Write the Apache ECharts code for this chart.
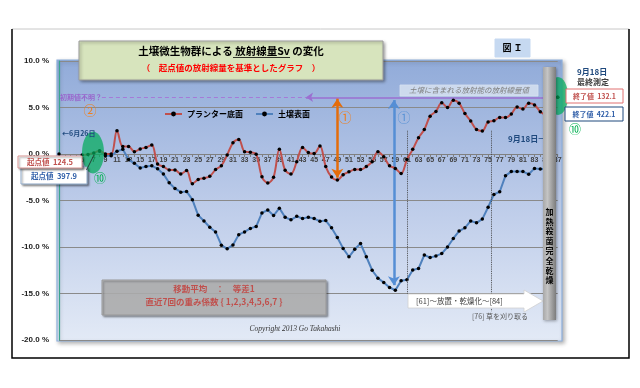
<!DOCTYPE html>
<html><head><meta charset="utf-8">
<script src="https://cdn.jsdelivr.net/npm/echarts@6/dist/echarts.min.js"></script>
<style>html,body{margin:0;padding:0;background:#fff}#c{width:640px;height:388px}</style>
</head><body><div id="c"></div>
<script>
const days = [1,2,3,4,5,6,7,8,9,10,11,12,13,14,15,16,17,18,19,20,21,22,23,24,25,26,27,28,29,30,
31,32,33,34,35,36,37,38,39,40,41,42,43,44,45,46,47,48,49,50,51,52,53,54,55,56,57,58,59,60,
61,62,63,64,65,66,67,68,69,70,71,72,73,74,75,76,77,78,79,80,81,82,83,84,85,86,87];
const planterBottom = [null,null,null,null,-0.1,-0.05,0.1,0.35,
0.0,0.0,2.5,0.8,0.8,0.25,0.55,0.7,0.96,-1.07,-1.35,-1.71,
-1.71,-2.14,-1.78,-3.2,-2.74,-2.6,-2.4,-1.68,-1.25,-0.1,
1.2,1.55,0.25,0.18,-0.04,-2.45,-3.13,-2.5,0.5,-1.75,
-2.14,-0.82,0.71,0.16,0.05,0.87,-1.35,-2.48,-2.8,-2.22,
-1.92,-1.68,-1.68,-1.35,-0.82,0.25,-0.3,-1.27,-1.55,-2.1,
-0.6,0.5,1.76,2.63,4.07,4.58,5.5,4.99,5.77,5.46,
4.35,3.54,2.63,2.48,3.45,3.57,3.92,3.92,4.3,5.05,
4.83,5.45,5.28,4.55,4.2,null,6.1];
const soilSurface = [0,null,null,null,null,null,null,0.3,
-0.2,-0.2,0.3,0.5,-0.6,-1.0,-1.5,-1.35,-1.27,-1.58,-2.14,-3.1,
-3.7,-4.1,-4.02,-4.91,-6.59,-7.2,-7.88,-8.38,-9.8,-10.2,
-9.78,-8.67,-8.38,-8.0,-7.8,-6.34,-6.02,-6.62,-5.82,-6.8,
-7.08,-6.7,-6.94,-6.8,-6.94,-7.23,-7.16,-7.94,-8.97,-10.15,
-11.05,-10.25,-9.63,-11.05,-12.5,-13.35,-13.81,-14.35,-14.65,-13.63,
-13.52,-12.48,-12.32,-10.86,-11.14,-10.96,-10.71,-10.0,-9.08,-8.29,
-7.94,-7.2,-7.4,-7.0,-5.72,-4.35,-4.06,-2.33,-1.89,-1.89,
-1.89,-2.17,-1.55,-1.6,-1.6,null,6.1];
const seriesNames = ['プランター底面','土壌表面'];
const yTicks = {min:-20, max:10, step:5};

const FF = "'Liberation Sans','Noto Sans CJK JP',sans-serif";
const JF = "'Noto Sans CJK JP','Liberation Sans',sans-serif";
const chart = echarts.init(document.getElementById('c'), null, {renderer:'canvas'});
const pair = arr => days.map((d,i)=>[d, arr[i]]);

const GRID = {left:59, right:82.3, top:61, bottom:48};
const gridH = 388 - GRID.top - GRID.bottom;
// place the category axis on the 0 % line
const zeroOffset = -gridH * (0 - yTicks.min) / (yTicks.max - yTicks.min);

function txt(x,y,text,o){
  o=o||{};
  return {type:'text', x:x, y:y, z:o.z||120, silent:true, style:{
    text:text, fill:o.color||'#000', fontSize:o.size||8, fontWeight:o.weight||'bold',
    fontStyle:o.italic?'italic':'normal', fontFamily:o.family||JF,
    align:o.align||'left', verticalAlign:'middle', textAlign:o.align||'left', textVerticalAlign:'middle',
    lineHeight:o.lh||undefined }};
}
function box(x,y,w,h,fill,stroke,o){
  o=o||{};
  return {type:'rect', z:o.z||110, silent:true, shape:{x:x,y:y,width:w,height:h},
    style:{fill:fill, stroke:stroke, lineWidth:o.lw||1, shadowBlur:o.sb||0, shadowColor:'rgba(0,0,0,0.35)', shadowOffsetX:o.sb?1.5:0, shadowOffsetY:o.sb?1.5:0}};
}

const graphics = [
  {type:'line', z:-20, silent:true, shape:{x1:12,y1:29,x2:629,y2:29}, style:{stroke:'#c8c8c8', lineWidth:1}},
  {type:'polyline', z:-20, silent:true, shape:{points:[[12,29],[12,358],[629,358],[629,29]]}, style:{stroke:'#000', lineWidth:1.5, fill:null}},
  {type:'rect', z:-10, silent:true, shape:{x:57,y:60,width:505,height:281},
    style:{fill:{type:'linear',x:0,y:0,x2:0,y2:1,colorStops:[{offset:0,color:'#91abd9'},{offset:0.5,color:'#bccbe9'},{offset:1,color:'#e3eaf6'}]},
      stroke:'#8eb0dc', lineWidth:1.2, shadowBlur:4, shadowColor:'rgba(0,0,0,0.3)', shadowOffsetX:2, shadowOffsetY:2}},
  box(79,41,304,39,'#d7e4bd','#9a9a9a',{sb:3}),
  txt(231,51,'土壌微生物群による 放射線量Sv の変化',{size:10.5,align:'center'}),
  {type:'line', z:121, silent:true, shape:{x1:233,y1:57.5,x2:290,y2:57.5}, style:{stroke:'#000', lineWidth:0.8}},
  txt(231,68,'（　起点値の放射線量を基準としたグラフ　）',{size:8.5,align:'center',color:'#ff0000'}),
  box(495,39,35,18,'#c6d9f1','#c6d9f1'),
  txt(512.5,48,'図 Ｉ',{size:9,align:'center'}),
  txt(60,97,'初期値不明？',{size:7,color:'#9966cc'}),
  box(400,85,138,11,'rgba(214,224,240,0.85)','rgba(214,224,240,0.85)',{z:105}),
  txt(469,90.5,'土壌に含まれる放射能の放射線量値',{size:7.5,color:'#7f7f7f',weight:'normal',italic:true,align:'center'}),
  txt(90,110,'②',{size:13,color:'#ee7f1e',weight:'normal',align:'center'}),
  txt(345,117,'①',{size:13,color:'#ee7f1e',weight:'normal',align:'center'}),
  txt(404,117,'①',{size:13,color:'#5b93d6',weight:'normal',align:'center'}),
  {type:'ellipse', z:90, silent:true, shape:{cx:93,cy:152.5,rx:11,ry:21}, style:{fill:'rgba(0,170,90,0.72)'}},
  {type:'line', z:115, silent:true, shape:{x1:86.5,y1:170,x2:94,y2:155}, style:{stroke:'#222', lineWidth:0.8}},
  txt(62,133,'←6月26日',{size:7,color:'#1f497d'}),
  box(21,167,66,17,'#fff','#8ea9c8',{sb:2}),
  txt(54,176,'起点値  397.9',{size:7.5,color:'#2f5ea8',align:'center'}),
  box(18,156,64,12,'#fff','#d99694',{sb:2}),
  txt(50,162,'起点値  124.5',{size:7.5,color:'#c0504d',align:'center'}),
  txt(100,178,'⑩',{size:12,color:'#00b050',weight:'normal',align:'center'}),
  {type:'ellipse', z:90, silent:true, shape:{cx:558,cy:96,rx:10,ry:19}, style:{fill:'rgba(0,170,90,0.72)'}},
  txt(577,72,'9月18日',{size:8,color:'#1f497d'}),
  txt(577,82,'最終測定',{size:8,color:'#404040'}),
  box(566,89,57,14,'#fff','#e07070'),
  txt(594.5,96,'終了値  132.1',{size:7,color:'#c0504d',align:'center'}),
  box(565,107,58,14,'#fff','#1f497d'),
  txt(594,114,'終了値  422.1',{size:7,color:'#2f5ea8',align:'center'}),
  txt(575,129,'⑩',{size:12,color:'#00b050',weight:'normal',align:'center'}),
  txt(508,139,'9月18日→',{size:8,color:'#1f497d'}),
  {type:'rect', z:130, silent:true, shape:{x:543,y:67,width:13,height:253},
    style:{fill:{type:'linear',x:0,y:0,x2:1,y2:0,colorStops:[{offset:0,color:'#a8a8a8'},{offset:0.35,color:'#c4c4c4'},{offset:1,color:'#7c7c7c'}]},
      shadowBlur:3, shadowColor:'rgba(0,0,0,0.35)', shadowOffsetX:1, shadowOffsetY:1}},
  txt(549.5,246,'加\n熱\n殺\n菌\n完\n全\n乾\n燥',{size:8,align:'center',lh:9.8,z:131}),
  box(102,280,224,35,'rgba(180,180,180,0.85)','#9a9a9a',{sb:2}),
  txt(214,289,'移動平均　：　等差1',{size:8.5,color:'#c0504d',align:'center'}),
  txt(214,302,'直近7回の重み係数 { 1,2,3,4,5,6,7 }',{size:8.5,color:'#c0504d',align:'center'}),
  txt(295,329,'Copyright 2013 Go Takahashi',{size:7.5,color:'#333',weight:'normal',italic:true,family:"'Liberation Serif',serif",align:'center'}),
  {type:'polygon', z:110, silent:true, shape:{points:[[408,294],[524,294],[524,290],[543,301],[524,312],[524,308],[408,308]]},
    style:{fill:'#fff', stroke:'#d0d0d0', lineWidth:0.8}},
  txt(416,301,'[61]〜放置・乾燥化〜[84]',{size:7.5,color:'#404040',weight:'normal'}),
  txt(472,316,'[76] 草を刈り取る',{size:7,color:'#595959',weight:'normal'})
];

const option = {
  animation:false,
  backgroundColor:'#fff',
  textStyle:{fontFamily:FF},
  grid:{left:GRID.left, right:GRID.right, top:GRID.top, bottom:GRID.bottom, containLabel:false},
  legend:{data:seriesNames, left:159, top:105, itemWidth:17, itemHeight:6, itemGap:12,
    textStyle:{fontSize:8, fontWeight:'bold', color:'#000', fontFamily:JF}},
  xAxis:{type:'value', min:1, max:87, interval:2, position:'bottom', offset:zeroOffset,
    axisLine:{onZero:false, lineStyle:{color:'#808080', width:1}},
    axisTick:{show:true, length:3, lineStyle:{color:'#808080'}},
    minorTick:{show:true, splitNumber:2, length:3, lineStyle:{color:'#808080'}},
    splitLine:{show:false},
    axisLabel:{fontSize:7, fontWeight:'bold', color:'#404040', margin:3, fontFamily:FF, showMinLabel:true, showMaxLabel:true}},
  yAxis:{type:'value', min:yTicks.min, max:yTicks.max, interval:yTicks.step,
    axisLine:{show:true, onZero:false, lineStyle:{color:'#3aa58f', width:1.2}},
    axisTick:{show:false},
    splitLine:{lineStyle:{color:'#8a8a8a', width:1}},
    axisLabel:{fontSize:8, fontWeight:'bold', color:'#222', margin:10, fontFamily:FF,
      formatter:v=>v.toFixed(1)+' %'}},
  graphic:{elements:graphics},
  series:[
    {name:seriesNames[0], type:'line', data:pair(planterBottom), smooth:0.35, connectNulls:false,
      symbol:'circle', symbolSize:3.5, showAllSymbol:true, z:5,
      lineStyle:{color:'#c0504d', width:2}, itemStyle:{color:'#000'},
      markLine:{silent:true, symbol:['arrow','arrow'], symbolSize:7, label:{show:false}, animation:false,
        data:[
          [{coord:[8.4,6.1], symbol:'none', lineStyle:{color:'#a57ad8', width:1, type:[4,3]}},{coord:[43.6,6.1], symbol:'none'}],
          [{coord:[43.6,6.1], lineStyle:{color:'#9b6fd0', width:1.5, type:'solid'}},{coord:[86.0,6.1]}],
          [{coord:[49,5.95], symbolSize:9, lineStyle:{color:'#e46c0a', width:2.5, type:'solid'}},{coord:[49,-2.55], symbolSize:9}],
          [{coord:[58.75,5.8], symbolSize:9, lineStyle:{color:'#558ed5', width:2.5, type:'solid'}},{coord:[58.75,-14.1], symbolSize:9}]
        ]}},
    {name:seriesNames[1], type:'line', data:pair(soilSurface), smooth:false, connectNulls:false,
      symbol:'circle', symbolSize:3.5, showAllSymbol:true, z:4,
      lineStyle:{color:'#4f81bd', width:2}, itemStyle:{color:'#000'},
      markLine:{silent:true, symbol:['none','none'], label:{show:false}, animation:false,
        data:[
          [{coord:[61.1,2.5], lineStyle:{color:'#404040', width:0.9, type:'dotted'}},{coord:[61.1,-15.0]}],
          [{coord:[75.5,2.5], lineStyle:{color:'#404040', width:0.9, type:'dotted'}},{coord:[75.5,-16.9]}]
        ]}}
  ]
};
chart.setOption(option);
</script></body></html>
